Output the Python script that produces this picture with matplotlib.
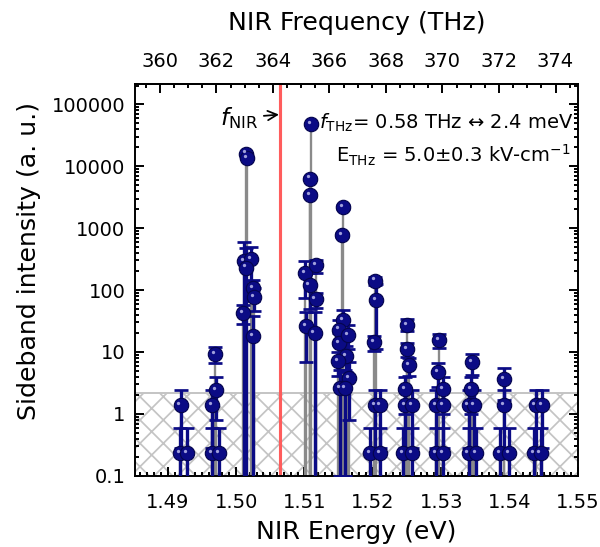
import numpy as np
import matplotlib
matplotlib.use("Agg")
import matplotlib.pyplot as plt
import matplotlib.transforms as mtransforms
from matplotlib.ticker import MultipleLocator, FixedLocator, FixedFormatter, LogLocator, NullFormatter

plt.rcParams['font.family'] = ['DejaVu Sans']
plt.rcParams['mathtext.fontset'] = 'custom'
plt.rcParams['mathtext.rm'] = 'DejaVu Sans'
plt.rcParams['mathtext.it'] = 'DejaVu Sans:italic'
plt.rcParams['hatch.linewidth'] = 0.9
plt.rcParams['hatch.color'] = '#c4c4c4'

# sideband data: photon energy (eV), intensity (a. u.), error (a. u.)
energy = [
    # n = -6
    1.49187, 1.49176, 1.49284,
    # n = -4
    1.49687, 1.49710, 1.49651, 1.49651, 1.49750,
    # n = -2
    1.50140, 1.50154, 1.50118, 1.50216, 1.50250, 1.50265, 1.50103, 1.50250, 1.50150,
    # n = +2
    1.51099, 1.51078, 1.51088, 1.51015, 1.51074, 1.51172, 1.51025, 1.51147, 1.51162,
    # n = +4
    1.51559, 1.51544, 1.51563, 1.51504, 1.51504, 1.51637, 1.51613, 1.51490, 1.51651,
    1.51515, 1.51588,
    # n = +6
    1.52029, 1.52044, 1.52019, 1.52029, 1.52103, 1.51966, 1.52103,
    # n = +8
    1.52504, 1.52496, 1.52534, 1.52471, 1.52471, 1.52569, 1.52446, 1.52569,
    # n = +10
    1.52975, 1.52960, 1.53025, 1.52926, 1.53034, 1.52926, 1.53034,
    # n = +12
    1.53451, 1.53437, 1.53401, 1.53485, 1.53401, 1.53515,
    # n = +14
    1.53926, 1.53916, 1.53868, 1.53990,
    # n = +16
    1.54382, 1.54481, 1.54357, 1.54456,
]
intensity = [
    1.38, 0.23, 0.23,
    9.4, 2.4, 1.38, 0.23, 0.23,
    16000, 13500, 290, 320, 107, 76, 43, 18, 230,
    48000, 6300, 3400, 185, 120, 250, 26, 20, 71,
    2180, 770, 33, 23, 14, 19, 8.7, 7.1, 3.8,
    2.6, 2.6,
    142, 68, 14.3, 1.38, 1.38, 0.23, 0.23,
    27.5, 11.2, 6.1, 2.5, 1.38, 1.38, 0.23, 0.23,
    15.4, 4.7, 2.5, 1.38, 1.38, 0.23, 0.23,
    6.8, 2.5, 1.38, 1.38, 0.23, 0.23,
    3.6, 1.38, 0.23, 0.23,
    1.38, 1.38, 0.23, 0.23,
]
error = [
    1.1, 0.37, 0.37,
    2.7, 1.6, 1.1, 0.37, 0.37,
    300, 250, 300, 180, 40, 30, 15, 20, 250,
    1500, 400, 250, 110, 70, 60, 19, 25, 20,
    150, 60, 15, 10, 6, 8, 4, 3, 3,
    2.5, 2.5,
    20, 57, 4, 1.1, 1.1, 0.37, 0.37,
    6, 3, 2, 1.5, 1.1, 1.1, 0.37, 0.37,
    4, 2, 1.5, 1.1, 1.1, 0.37, 0.37,
    2.6, 1.5, 1.1, 1.1, 0.37, 0.37,
    1.9, 1.1, 0.37, 0.37,
    1.1, 1.1, 0.37, 0.37,
]

nir_energy = 1.50647      # eV, NIR laser line
noise_floor = 2.2
h_ev_thz = 4.135667696e-3  # eV per THz

energy_ticks = [1.49, 1.50, 1.51, 1.52, 1.53, 1.54, 1.55]
freq_ticks = [360, 362, 364, 366, 368, 370, 372, 374]
y_ticks = [0.1, 1, 10, 100, 1000, 10000, 100000]
y_labels = ['0.1', '1', '10', '100', '1000', '10000', '100000']

energy = np.array(energy)
intensity = np.array(intensity)
error = np.array(error)

navy = '#0b0b85'
grey = '#8a8a8a'

fig = plt.figure(figsize=(600 / 140, 547 / 140), dpi=140)
ax = fig.add_axes([0.225, 0.130, 0.738, 0.716])

ax.set_yscale('log')
ax.set_xlim(1.4852, 1.55)
ax.set_ylim(0.1, 2.1e5)

# noise floor
ax.fill_between([1.48, 1.56], 0.01, noise_floor, facecolor='none',
                edgecolor='#c4c4c4', hatch='xx', linewidth=0, zorder=0)
ax.axhline(noise_floor, color='#c4c4c4', lw=1.0, zorder=0.5)

# NIR line
ax.axvline(nir_energy, color='#ff5c5c', lw=1.6, zorder=1)

# drop lines
ax.vlines(energy, 0.1, intensity, colors=grey, lw=1.2, zorder=2)

lower = np.where(intensity - error > 0, error, intensity - 1e-3)
ax.errorbar(energy, intensity, yerr=[lower, error], fmt='none', ecolor=navy,
            elinewidth=1.7, capsize=3.8, capthick=1.4, zorder=3)
ax.plot(energy, intensity, 'o', ms=7.4, mfc=navy, mec='#05054f', mew=0.6, zorder=4)
glint = mtransforms.offset_copy(ax.transData, fig=fig, x=-1.1, y=1.1, units='points')
ax.plot(energy, intensity, 'o', ms=1.7, mfc='#a0a0dc', mec='none', zorder=5,
        transform=glint)

# ticks
ax.xaxis.set_major_locator(FixedLocator(energy_ticks))
ax.xaxis.set_major_formatter(FixedFormatter(['%.2f' % t for t in energy_ticks]))
ax.xaxis.set_minor_locator(MultipleLocator(0.001))
ax.yaxis.set_major_locator(FixedLocator(y_ticks))
ax.yaxis.set_major_formatter(FixedFormatter(y_labels))
ax.yaxis.set_minor_locator(LogLocator(base=10, subs=np.arange(2, 10)))
ax.yaxis.set_minor_formatter(NullFormatter())
ax.tick_params(which='both', direction='in', top=False, right=True, width=1.0,
               labelsize=10)
ax.tick_params(which='major', length=4.5)
ax.tick_params(which='minor', length=2.2)
ax.tick_params(axis='x', pad=9)
ax.tick_params(axis='y', pad=5)
for s in ax.spines.values():
    s.set_linewidth(1.0)

secax = ax.secondary_xaxis('top', functions=(lambda e: e / h_ev_thz,
                                             lambda f: f * h_ev_thz))
secax.set_xticks(freq_ticks)
secax.set_xticklabels([str(f) for f in freq_ticks])
secax.xaxis.set_minor_locator(MultipleLocator(0.5))
secax.tick_params(which='both', direction='in', width=1.0, labelsize=10, pad=7)
secax.tick_params(which='major', length=4.5)
secax.tick_params(which='minor', length=2.2)
secax.set_xlabel('NIR Frequency (THz)', fontsize=13, labelpad=11)

ax.set_xlabel('NIR Energy (eV)', fontsize=13, labelpad=4)
ax.set_ylabel('Sideband intensity (a. u.)', fontsize=13)
ax.yaxis.set_label_coords(-0.212, 0.55)

# annotations
ax.annotate(r'$f_{\mathrm{NIR}}$', xy=(nir_energy - 0.0002, 6.8e4), xytext=(1.5004, 6e4),
            fontsize=12, ha='center', va='center',
            arrowprops=dict(arrowstyle='->', color='black', lw=0.9,
                            shrinkA=1, shrinkB=0))
ax.text(1.5121, 5.0e4, r'$f_{\mathrm{THz}}$= 0.58 THz ↔ 2.4 meV', fontsize=10,
        ha='left', va='center')
ax.text(1.5146, 1.5e4, r'E$_{\mathrm{THz}}$ = 5.0±0.3 kV-cm$^{-1}$', fontsize=10,
        ha='left', va='center')

fig.savefig('out.png', dpi=140)
